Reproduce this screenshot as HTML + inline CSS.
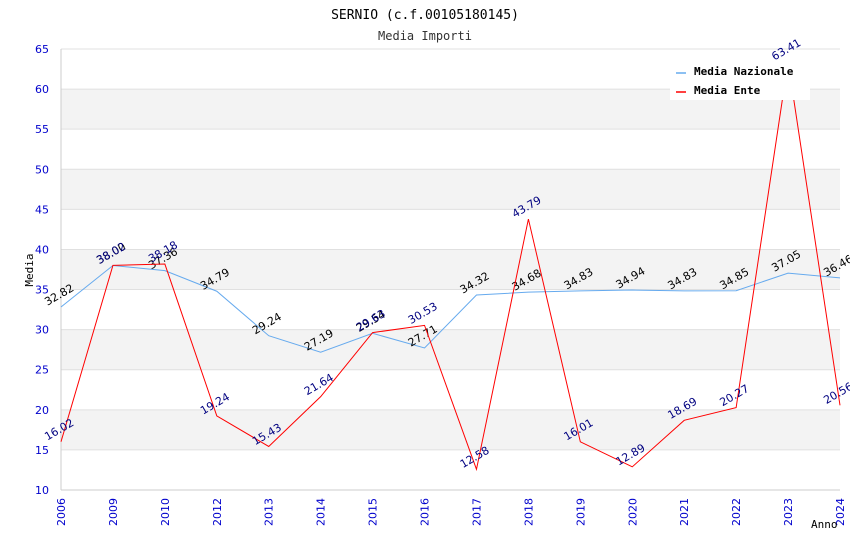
<!DOCTYPE html>
<html><head><meta charset="utf-8"><style>
body{margin:0;background:#fff}
svg text{font-family:"DejaVu Sans Mono","Liberation Mono",monospace}
svg text.s{font-family:"DejaVu Sans","Liberation Sans",sans-serif}
</style></head><body>
<svg id="c" width="850" height="550" xmlns="http://www.w3.org/2000/svg">
<text x="425" y="19" text-anchor="middle" font-size="13" fill="#000">SERNIO (c.f.00105180145)</text>
<text x="425" y="40" text-anchor="middle" font-size="12" fill="#333">Media Importi</text>
<g id="grid"></g>
<g id="marks"></g>
<g id="legend">
<rect x="670" y="60" width="140" height="40" fill="#fff"/>
<line x1="676" y1="73" x2="686" y2="73" stroke="#66aaee" stroke-width="1.5"/>
<text x="694" y="75" font-size="11" font-weight="bold">Media Nazionale</text>
<line x1="676" y1="92" x2="686" y2="92" stroke="#ff0000" stroke-width="1.5"/>
<text x="694" y="94" font-size="11" font-weight="bold">Media Ente</text>
</g>
<text x="33" y="270" text-anchor="middle" font-size="11" transform="rotate(-90 33 270)">Media</text>
<text x="811" y="528" font-size="11">Anno</text>
</svg>
<script>
const categories=["2006","2009","2010","2012","2013","2014","2015","2016","2017","2018","2019","2020","2021","2022","2023","2024"];
const nazionale=[32.82,38.00,37.36,34.79,29.24,27.19,29.54,27.71,34.32,34.68,34.83,34.94,34.83,34.85,37.05,36.46];
const ente=[16.02,38.02,38.18,19.24,15.43,21.64,29.63,30.53,12.58,43.79,16.01,12.89,18.69,20.27,63.41,20.56];
const yTicks=[10,15,20,25,30,35,40,45,50,55,60,65];
const NS="http://www.w3.org/2000/svg";
const L=61,R=840,T=49,B=490,ymin=10,ymax=65;
const xs=i=>L+i*(R-L)/(categories.length-1);
const ys=v=>B-(v-ymin)/(ymax-ymin)*(B-T);
function mk(t,a,p){const e=document.createElementNS(NS,t);for(const k in a)e.setAttribute(k,a[k]);(p||document.getElementById('marks')).appendChild(e);return e;}
const g=document.getElementById('grid');
for(let i=0;i<yTicks.length-1;i++){
  if(i%2===1){const r=mk('rect',{x:L,y:ys(yTicks[i+1]),width:R-L,height:ys(yTicks[i])-ys(yTicks[i+1]),fill:'#f3f3f3'},g);
  
  }
}
yTicks.forEach(v=>{
  const l=mk('line',{x1:L,x2:R,y1:ys(v),y2:ys(v),stroke:'#e0e0e0'},g);
  
  
  const t=mk('text',{x:49,y:ys(v)+4,'text-anchor':'end','font-size':11,fill:'#0000cc',class:'s'},g);
  t.textContent=v;
  
  
});
mk('line',{x1:L,x2:L,y1:T,y2:B,stroke:'#ccc'},g);
mk('line',{x1:L,x2:R,y1:B,y2:B,stroke:'#ccc'},g);
categories.forEach((c,i)=>{
  const t=mk('text',{x:xs(i)+4,y:B+8,'text-anchor':'end','font-size':11,fill:'#0000cc',class:'s',transform:`rotate(-90 ${xs(i)+4} ${B+8})`},g);
  t.textContent=c;
  
  
});
function series(vals,color,lc,name){
  const p=mk('polyline',{points:vals.map((v,i)=>xs(i)+','+ys(v)).join(' '),fill:'none',stroke:color,'stroke-width':1});
  
  
  vals.forEach((v,i)=>{
    const x=xs(i),y=ys(v)-9;
    const t=mk('text',{x:x,y:y,'text-anchor':'middle','font-size':11,fill:lc,class:'s',transform:`rotate(-30 ${x} ${y})`});
    t.textContent=v.toFixed(2);
    
    
  });
}
series(nazionale,'#66aaee','#000','nazionale');
series(ente,'#ff0000','#000080','ente');
</script>
</body></html>
